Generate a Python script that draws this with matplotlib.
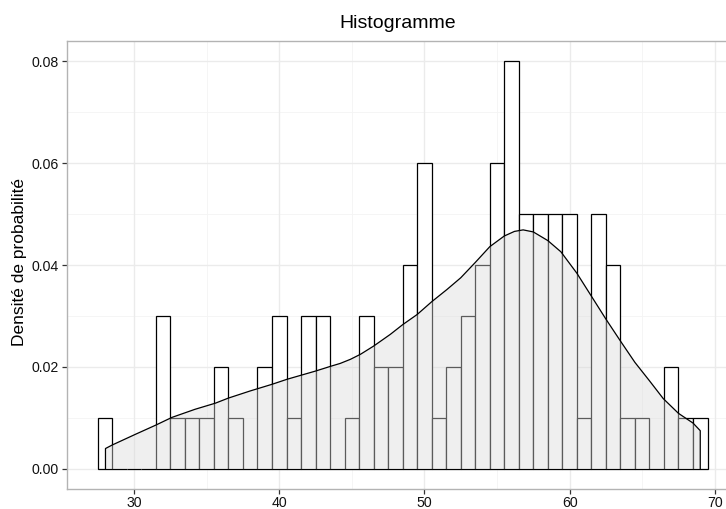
import matplotlib
matplotlib.use("Agg")
import matplotlib.pyplot as plt

plt.rcParams['font.family'] = ['Liberation Sans', 'DejaVu Sans']

# histogramme : centres des classes (largeur 1) et densités
centres = list(range(28, 70))
densites = [0.01, 0.00, 0.00, 0.00, 0.03, 0.01, 0.01, 0.01, 0.02, 0.01,
            0.00, 0.02, 0.03, 0.01, 0.03, 0.03, 0.00, 0.01, 0.03, 0.02,
            0.02, 0.04, 0.06, 0.01, 0.02, 0.03, 0.04, 0.06, 0.08, 0.05,
            0.05, 0.05, 0.05, 0.01, 0.05, 0.04, 0.01, 0.01, 0.00, 0.02,
            0.01, 0.01]

# courbe de densité estimée
dens_x = [28.03, 28.5, 30.1, 31.5, 32.6, 34.2, 35.6, 36.5, 38.0, 39.5,
          40.55, 42.5, 43.5, 44.2, 44.9, 45.6, 46.5, 47.65, 48.5, 49.5, 50.5,
          51.55, 52.5, 53.5, 54.5, 55.5, 56.2, 56.8, 57.5, 58.5, 59.4,
          60.5, 61.5, 62.5, 63.5, 64.5, 65.5, 66.45, 67.5, 68.5, 69.0]
dens_y = [0.0040, 0.0047, 0.0068, 0.0086, 0.0101, 0.0117, 0.0129, 0.0139, 0.0153, 0.0166,
          0.0176, 0.0192, 0.0201, 0.0207, 0.0215, 0.0225, 0.0241, 0.0264, 0.0283, 0.0303, 0.0328,
          0.0352, 0.0375, 0.0405, 0.0436, 0.0457, 0.0466, 0.0469, 0.0465, 0.0448, 0.0426,
          0.0384, 0.0339, 0.0294, 0.0251, 0.0209, 0.0173, 0.0138, 0.0109, 0.0090, 0.0075]

xticks = [30, 40, 50, 60, 70]
yticks = [0.00, 0.02, 0.04, 0.06, 0.08]

fig = plt.figure(figsize=(7.26, 5.09), dpi=100)
ax = fig.add_axes([67.3 / 726, 19.7 / 509, (738 - 67.3) / 726, (489.3 - 40.8) / 509])

ax.set_xlim(25.4, 71.6)
ax.set_ylim(-0.004, 0.084)

# grille
for x in [35, 45, 55, 65]:
    ax.axvline(x, color='#f4f4f4', lw=0.6, zorder=0)
for y in [0.01, 0.03, 0.05, 0.07]:
    ax.axhline(y, color='#f4f4f4', lw=0.6, zorder=0)
for x in xticks:
    ax.axvline(x, color='#ebebeb', lw=1.0, zorder=0)
for y in yticks:
    ax.axhline(y, color='#ebebeb', lw=1.0, zorder=0)

ax.bar(centres, densites, width=1, align='center', facecolor='white',
       edgecolor='black', linewidth=0.9, zorder=2)

# densité par-dessus les barres
ax.fill_between(dens_x, 0, dens_y, facecolor='#dadada', alpha=0.42,
                edgecolor='none', zorder=3)
ax.plot([dens_x[0]] + dens_x + [dens_x[-1]], [0] + dens_y + [0],
        color='black', lw=0.9, zorder=4)

ax.set_xticks(xticks)
ax.set_yticks(yticks)
ax.set_yticklabels(['%.2f' % v for v in yticks])
ax.tick_params(axis='both', length=3.5, width=0.9, color='#333333',
               labelsize=10.2, labelcolor='#111111', pad=3)
ax.tick_params(axis='x', pad=1.5)
for s in ax.spines.values():
    s.set_color('#b3b3b3')
    s.set_linewidth(1.0)

fig.text(20 / 726, 1 - 262 / 509, 'Densité de probabilité', rotation=90,
         ha='center', va='center', fontsize=12.5, color='black')
fig.text(398 / 726, 1 - 23 / 509, 'Histogramme', ha='center', va='center',
         fontsize=14, color='black')

fig.savefig('out.png', dpi=100)
